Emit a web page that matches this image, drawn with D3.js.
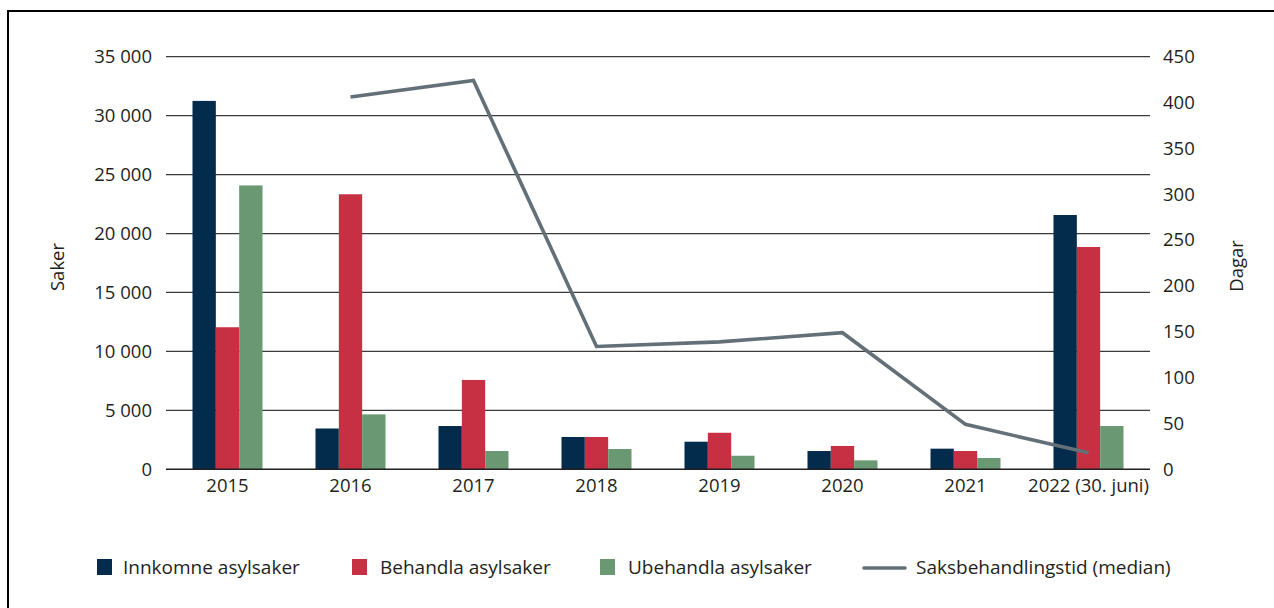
<!DOCTYPE html>
<html><head><meta charset="utf-8">
<script src="https://cdn.jsdelivr.net/npm/d3@7"></script>
<style>
html,body{margin:0;padding:0;background:#fff;}
svg{display:block;font-family:"Open Sans",sans-serif;}
</style></head>
<body>
<svg id="c" width="1274" height="608"></svg>
<script>
const categories = ["2015","2016","2017","2018","2019","2020","2021","2022 (30. juni)"];
const innkomne = [31250, 3460, 3670, 2740, 2340, 1550, 1750, 21570];
const behandla = [12050, 23330, 7580, 2740, 3100, 1980, 1550, 18860];
const ubehandla = [24080, 4660, 1550, 1720, 1150, 760, 960, 3670];
const saksbehandlingstid = [null, 406, 424, 134, 139, 149, 49, 18];
const leftTicks = [0,5000,10000,15000,20000,25000,30000,35000];
const rightTicks = [0,50,100,150,200,250,300,350,400,450];
const seriesNames = ["Innkomne asylsaker","Behandla asylsaker","Ubehandla asylsaker"];
const lineName = "Saksbehandlingstid (median)";
const colors = ["#022b4c","#c63042","#6a9873"];
const lineColor = "#647078";

const svg = d3.select("#c");
// frame
svg.append("rect").attr("x",8).attr("y",11).attr("width",1274).attr("height",620)
  .attr("fill","none").attr("stroke","#000").attr("stroke-width",2);

const pLeft = 166, pRight = 1150, pTop = 56.7, pBottom = 469.3;
const x = d3.scaleBand().domain(categories).range([pLeft,pRight]).padding(0);
const yL = d3.scaleLinear().domain([0,35000]).range([pBottom,pTop]);
const yR = d3.scaleLinear().domain([0,450]).range([pBottom,pTop]);
const groupW = 70;
const xs = d3.scaleBand().domain([0,1,2]).range([0,groupW]).padding(0);

const fmtSpace = v => v>=1000 ? Math.floor(v/1000)+" "+String(v%1000).padStart(3,"0") : String(v);

// grid
svg.append("g").selectAll("line").data(leftTicks.filter(d=>d>0)).join("line")
  .attr("x1",pLeft).attr("x2",pRight)
  .attr("y1",d=>yL(d)).attr("y2",d=>yL(d))
  .attr("stroke","#3a3a3a").attr("stroke-width",1.2);

// left axis
const gL = svg.append("g").attr("transform",`translate(${pLeft},0)`)
  .call(d3.axisLeft(yL).tickValues(leftTicks).tickFormat(fmtSpace).tickSize(0).tickPadding(14));
gL.select(".domain").remove();
gL.selectAll("text").attr("font-size",18.5).attr("fill","#231f20").attr("font-family","Open Sans");

// right axis
const gR = svg.append("g").attr("transform",`translate(${pRight},0)`)
  .call(d3.axisRight(yR).tickValues(rightTicks).tickSize(0).tickPadding(13));
gR.select(".domain").remove();
gR.selectAll("text").attr("font-size",18.5).attr("fill","#231f20").attr("font-family","Open Sans");

// bars
const data = categories.map((c,i)=>({c, vals:[innkomne[i],behandla[i],ubehandla[i]]}));
const groups = svg.append("g").selectAll("g").data(data).join("g")
  .attr("transform",d=>`translate(${x(d.c)+x.bandwidth()/2-groupW/2},0)`);
groups.selectAll("rect").data(d=>d.vals.map((v,k)=>({v,k}))).join("rect")
  .attr("x",d=>xs(d.k)).attr("width",xs.bandwidth())
  .attr("y",d=>yL(d.v)).attr("height",d=>yL(0)-yL(d.v))
  .attr("fill",d=>colors[d.k]);

// baseline
svg.append("line").attr("x1",pLeft).attr("x2",pRight).attr("y1",pBottom).attr("y2",pBottom)
  .attr("stroke","#231f20").attr("stroke-width",1.5);

// x axis labels
const gX = svg.append("g").attr("transform",`translate(0,${pBottom})`)
  .call(d3.axisBottom(x).tickSize(0).tickPadding(10));
gX.select(".domain").remove();
gX.selectAll("text").attr("font-size",18.5).attr("fill","#231f20").attr("font-family","Open Sans");

// line
const lineData = categories.map((c,i)=>({c,v:saksbehandlingstid[i]})).filter(d=>d.v!=null);
svg.append("path").datum(lineData)
  .attr("d",d3.line().x(d=>x(d.c)+x.bandwidth()/2).y(d=>yR(d.v)))
  .attr("fill","none").attr("stroke",lineColor).attr("stroke-width",3.6)
  .attr("stroke-linejoin","miter");

// axis titles
svg.append("text").attr("transform","translate(64,267) rotate(-90)")
  .attr("text-anchor","middle").attr("font-size",18.5).attr("fill","#231f20").text("Saker");
svg.append("text").attr("transform","translate(1243,266) rotate(-90)")
  .attr("text-anchor","middle").attr("font-size",18.5).attr("fill","#231f20").text("Dagar");

// legend
const legY = 567;
const legItems = [{x:97,tx:123,t:0},{x:352,tx:380,t:1},{x:600,tx:628,t:2}];
legItems.forEach(it=>{
  svg.append("rect").attr("x",it.x).attr("y",legY-8).attr("width",15).attr("height",16)
    .attr("fill",colors[it.t]);
  svg.append("text").attr("x",it.tx).attr("y",legY).attr("dy","0.35em")
    .attr("font-size",19).attr("fill","#231f20").text(seriesNames[it.t]);
});
svg.append("line").attr("x1",864).attr("x2",905).attr("y1",legY+1).attr("y2",legY+1)
  .attr("stroke",lineColor).attr("stroke-width",3.6).attr("stroke-linecap","round");
svg.append("text").attr("x",916).attr("y",legY).attr("dy","0.35em")
  .attr("font-size",19).attr("fill","#231f20").text(lineName);
</script>
</body></html>
